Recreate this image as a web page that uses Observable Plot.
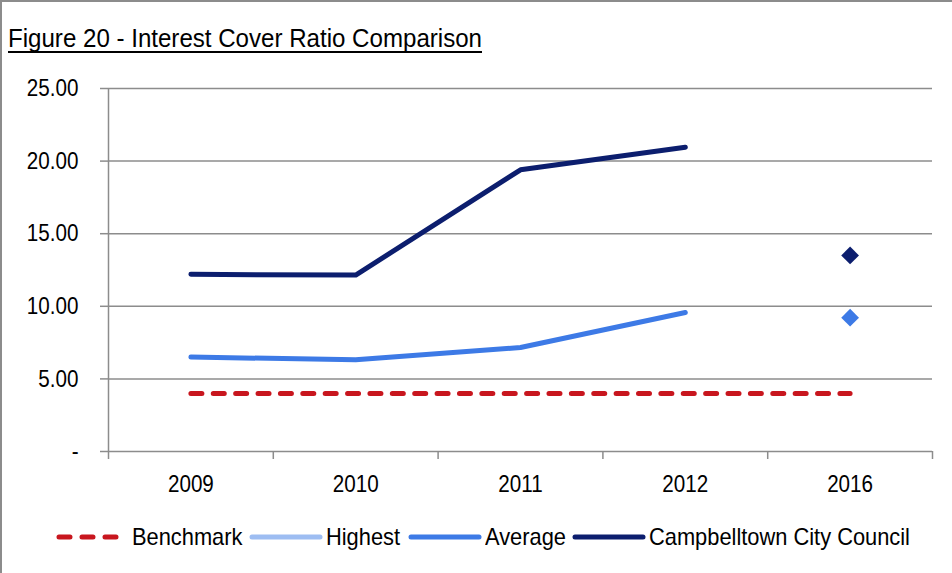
<!DOCTYPE html>
<html>
<head>
<meta charset="utf-8">
<script src="https://cdn.jsdelivr.net/npm/d3@7"></script>
<script src="https://cdn.jsdelivr.net/npm/@observablehq/plot@0.6"></script>
<style>
  html, body { margin: 0; padding: 0; background: #fff; }
  #page {
    position: relative; width: 952px; height: 573px; box-sizing: border-box;
    border-top: 2px solid #8c8c8c; border-left: 2px solid #8c8c8c;
    font-family: "Liberation Sans", Arial, sans-serif;
    overflow: hidden;
  }
  #title {
    position: absolute; left: 6px; top: 21px; font-size: 26px; color: #000; white-space: nowrap;
    transform-origin: 0 0; display: inline-block;
  }
  #title-line { position: absolute; left: 6px; top: 49px; height: 2px; background: #000; }
  #chart { position: absolute; left: -2px; top: 56px; }
  #legend {
    position: absolute; left: 53px; top: 520px; height: 30px; display: flex; align-items: center;
    font-size: 24px; color: #000; white-space: nowrap;
  }
  .item { display: flex; align-items: center; margin-right: 7px; }
  .item svg { margin-right: 3px; }
  .txt { display: inline-block; overflow: visible; }
  .txt > span { display: inline-block; transform-origin: 0 50%; }
</style>
</head>
<body>
<div id="page">
  <div id="title">Figure 20 - Interest Cover Ratio Comparison</div>
  <div id="title-line"></div>
  <div id="chart"></div>
  <div id="legend"></div>
</div>
<script>
// ---- data ----
const categories = ["2009", "2010", "2011", "2012", "2016"];
const lineYears = ["2009", "2010", "2011", "2012"];
const benchmarkValues = [4, 4, 4, 4, 4];
const highestValues = [];
const averageValues = [6.5, 6.32, 7.16, 9.57];
const councilValues = [12.2, 12.15, 19.4, 20.96];
const year2016 = "2016";
const average2016 = 9.22;
const council2016 = 13.5;
const yTicks = [0, 5, 10, 15, 20, 25];

const seriesNames = ["Benchmark", "Highest", "Average", "Campbelltown City Council"];
const seriesColors = ["#c8161e", "#9dbdf2", "#3d7ae6", "#0c1e6e"];

const NARROW = 0.86;        // horizontal compression for axis labels
const LEGEND_NARROW = 0.91; // horizontal compression for legend labels
const FONT = '"Liberation Sans", Arial, sans-serif';

// ---- tables ----
const idx = (c) => categories.indexOf(c);
const benchmark = categories.map((c, i) => ({x: idx(c), y: benchmarkValues[i]}));
const highest = highestValues.map((v, i) => ({x: idx(lineYears[i]), y: v}));
const average = lineYears.map((c, i) => ({x: idx(c), y: averageValues[i]}));
const council = lineYears.map((c, i) => ({x: idx(c), y: councilValues[i]}));
const diamonds = [
  {x: idx(year2016), y: council2016, c: seriesColors[3]},
  {x: idx(year2016), y: average2016, c: seriesColors[2]}
];
const centers = categories.map((c, i) => i);
const bounds = d3.range(categories.length + 1).map(i => i - 0.5);

const grid = "#8c8c8c";
const chart = Plot.plot({
  width: 952,
  height: 452,
  marginTop: 30,
  marginBottom: 59,
  marginLeft: 108,
  marginRight: 20,
  x: {domain: [-0.5, categories.length - 0.5]},
  y: {domain: [0, 25]},
  style: {fontFamily: FONT, fontSize: "24px", color: "#000", background: "transparent"},
  marks: [
    Plot.gridY(yTicks, {stroke: grid, strokeOpacity: 1, strokeWidth: 1.5}),
    Plot.axisY(yTicks, {
      tickSize: 8, tickPadding: 22, stroke: grid, strokeWidth: 1.5, label: null,
      tickFormat: d => d === 0 ? "-" : d.toFixed(2)
    }),
    Plot.ruleX([-0.5], {stroke: grid, strokeWidth: 1.5}),
    Plot.axisX(bounds, {tickSize: 8, tickFormat: () => "", stroke: grid, strokeWidth: 1.5, label: null}),
    Plot.axisX(centers, {tickSize: 0, tickPadding: 23, tickFormat: i => categories[i], label: null}),
    Plot.line(benchmark, {x: "x", y: "y", stroke: seriesColors[0], strokeWidth: 5,
      strokeDasharray: "11,11.38", strokeLinecap: "round"}),
    Plot.line(highest, {x: "x", y: "y", stroke: seriesColors[1], strokeWidth: 5}),
    Plot.line(average, {x: "x", y: "y", stroke: seriesColors[2], strokeWidth: 5, strokeLinecap: "round"}),
    Plot.line(council, {x: "x", y: "y", stroke: seriesColors[3], strokeWidth: 5, strokeLinecap: "round"}),
    Plot.dot(diamonds, {x: "x", y: "y", symbol: "diamond2", r: 8, fill: "c", stroke: "none"})
  ]
});
document.getElementById("chart").appendChild(chart);

// compress tick label text horizontally around its anchor
chart.querySelectorAll('g[aria-label$="tick label"] text').forEach(t => {
  const tr = t.getAttribute("transform");
  if (tr) {
    t.setAttribute("transform", tr + ` scale(${NARROW},1)`);
  } else {
    const x = +t.getAttribute("x") || 0, y = +t.getAttribute("y") || 0;
    t.removeAttribute("x"); t.removeAttribute("y");
    t.setAttribute("transform", `translate(${x},${y}) scale(${NARROW},1)`);
  }
});

// title: fit compressed text, underline it
const title = document.getElementById("title");
const tw = title.getBoundingClientRect().width;
const ts = 474 / tw;
title.style.transform = `scaleX(${ts})`;
document.getElementById("title-line").style.width = (tw * ts) + "px";

// ---- legend ----
const legend = d3.select("#legend");
seriesNames.forEach((name, i) => {
  const item = legend.append("div").attr("class", "item");
  const svg = item.append("svg").attr("width", 74).attr("height", 12);
  if (i === 0) {
    svg.append("line").attr("x1", 4).attr("x2", 66).attr("y1", 6).attr("y2", 6)
      .attr("stroke", seriesColors[i]).attr("stroke-width", 5)
      .attr("stroke-linecap", "round").attr("stroke-dasharray", "11,12");
  } else {
    svg.append("line").attr("x1", 3).attr("x2", 71).attr("y1", 6).attr("y2", 6)
      .attr("stroke", seriesColors[i]).attr("stroke-width", 5).attr("stroke-linecap", "round");
  }
  const outer = item.append("span").attr("class", "txt");
  const inner = outer.append("span").text(name);
  const w = inner.node().getBoundingClientRect().width;
  outer.style("width", (w * LEGEND_NARROW) + "px");
  inner.style("transform", `scaleX(${LEGEND_NARROW})`);
});
</script>
</body>
</html>
